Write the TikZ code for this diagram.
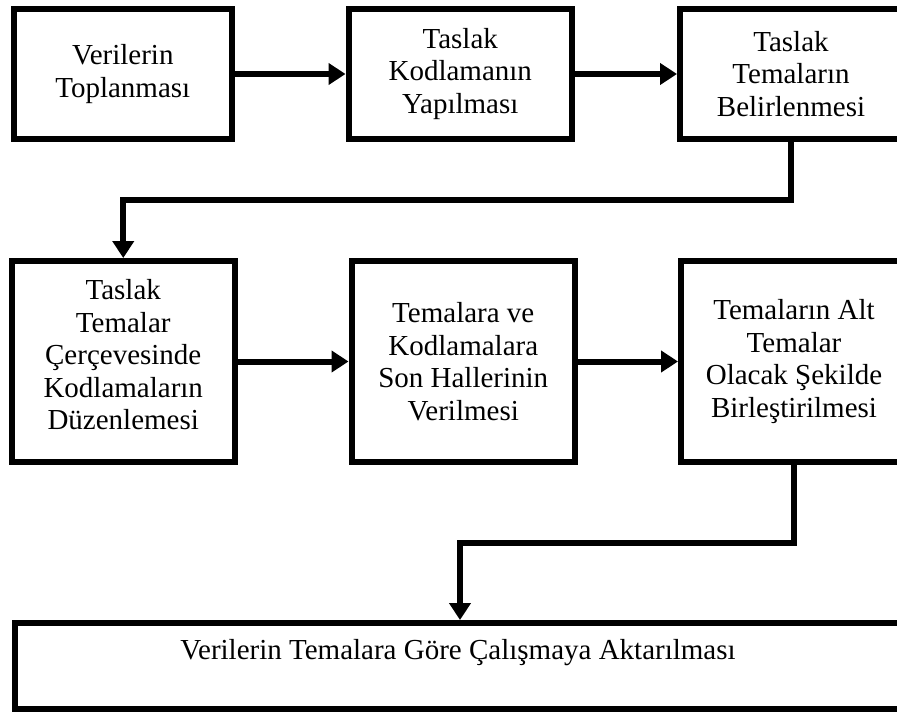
\documentclass[tikz,border=0pt]{standalone}
\usepackage{fontspec}
\setmainfont{Liberation Serif}
\usetikzlibrary{arrows.meta}
\begin{document}
\begin{tikzpicture}[x=1pt,y=-1pt,
  box/.style={draw, line width=6pt, inner sep=0pt, align=center,
    font=\fontsize{29}{32.5}\selectfont},
  lbl/.style={inner sep=0pt, align=center, font=\fontsize{29}{32.5}\selectfont},
  conn/.style={line width=6pt, -{Triangle[length=17pt,width=21pt]}}]
\useasboundingbox (0,0) rectangle (897,712);
\clip (0,0) rectangle (897,712);

% first row
\node[box, minimum width=218.5pt, minimum height=130pt] (b1) at (122.75,74)
  {Verilerin\\Toplanması};
\node[box, minimum width=223.5pt, minimum height=130pt] (b2) at (460.25,74)
  {Taslak\\Kodlamanın\\Yapılması};
\node[box, minimum width=222pt, minimum height=130pt] (b3) at (791,74)
  {Taslak\\Temaların\\Belirlenmesi};

% second row
\node[box, minimum width=223.5pt, minimum height=201pt] (b4) at (123.25,361.5) {};
\node[lbl] (t4) at (123.25,355)
  {Taslak\\Temalar\\Çerçevesinde\\Kodlamaların\\Düzenlemesi};
\node[box, minimum width=223.5pt, minimum height=201pt] (b5) at (463.25,361.5)
  {Temalara ve\\Kodlamalara\\Son Hallerinin\\Verilmesi};
\node[box, minimum width=226pt, minimum height=201pt] (b6) at (794,361.5)
  {Temaların Alt\\Temalar\\Olacak Şekilde\\Birleştirilmesi};

% final wide box
\node[box, minimum width=886pt, minimum height=86pt] (b7) at (458,666) {};
\node[lbl] (t7) at (458,653) {Verilerin Temalara Göre Çalışmaya Aktarılması};

% bend points of the elbow connectors
\coordinate (m1) at (123.25,200);
\coordinate (m2) at (460,543);

\draw[conn] (b1.east) -- (b2.west);
\draw[conn] (b2.east) -- (b3.west);
\draw[conn] (b3.south) |- (m1) -- (b4.north);
\draw[conn] (b4.east) -- (b5.west);
\draw[conn] (b5.east) -- (b6.west);
\draw[conn] (b6.south) |- (m2) -- (m2 |- b7.north);
\end{tikzpicture}
\end{document}
